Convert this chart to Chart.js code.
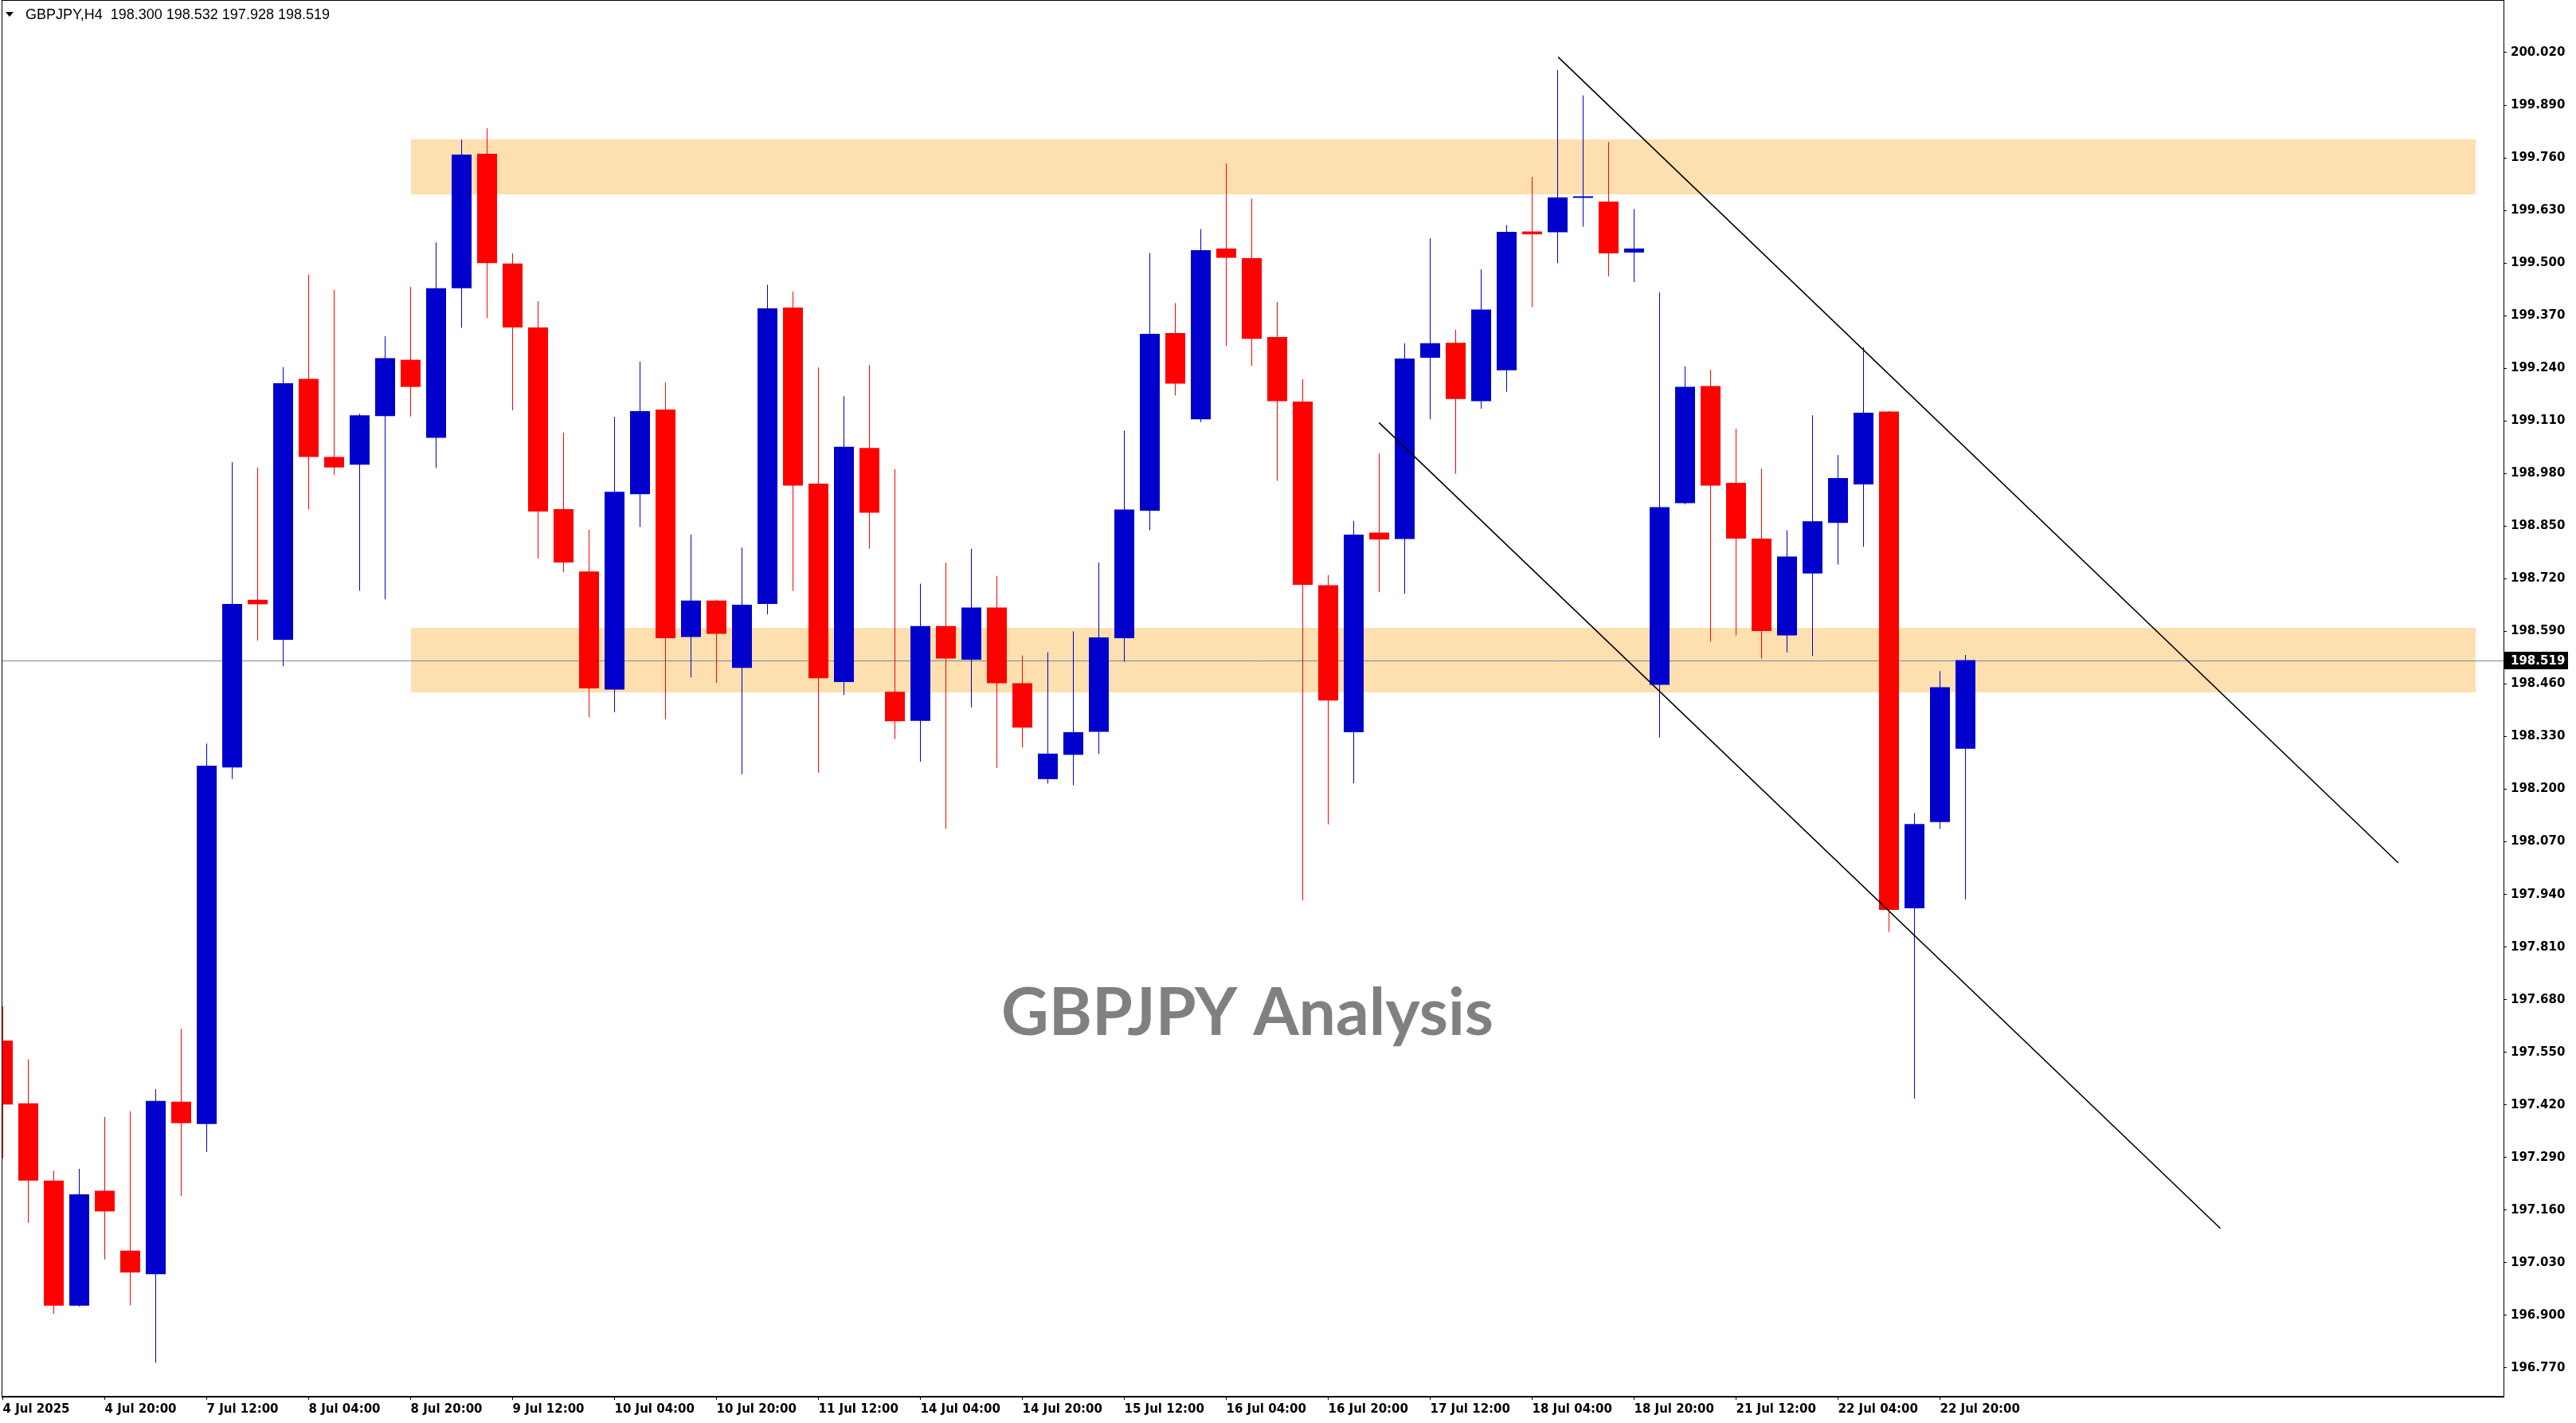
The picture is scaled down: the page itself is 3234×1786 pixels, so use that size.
<!DOCTYPE html>
<html>
<head>
<meta charset="utf-8">
<script src="https://cdn.jsdelivr.net/npm/chart.js@4/dist/chart.umd.min.js"></script>
<style>
html,body{margin:0;padding:0;background:#fff;overflow:hidden}
#wrap{width:3234px;height:1786px;position:relative}
canvas{display:block}
</style>
</head>
<body>
<div id="wrap"><canvas id="c" width="3234" height="1786"></canvas></div>
<script>
// ---------------- DATA ----------------
const symbolTitle = 'GBPJPY,H4';
const watermarkText = 'GBPJPY Analysis';

// H4 bars, 4 Jul 2025 04:00 ... 23 Jul 2025 00:00
const openP = [197.579,197.424,197.233,196.924,197.208,197.060,197.002,197.428,197.373,198.254,
  198.668,198.569,199.214,199.021,199.002,199.122,199.261,199.068,199.438,199.770,
  199.499,199.341,198.892,198.738,198.446,198.929,199.138,198.576,198.666,198.500,
  198.658,199.390,198.955,198.465,199.043,198.441,198.369,198.603,198.520,198.649,
  198.462,198.225,198.285,198.342,198.573,198.888,199.327,199.114,199.536,199.512,
  199.317,199.158,198.704,198.341,198.834,198.818,199.266,199.303,199.159,199.235,
  199.578,199.576,199.661,199.652,199.526,198.458,198.907,199.196,198.957,198.819,
  198.580,198.733,198.858,198.953,199.133,197.906,198.119,198.300];
const highP = [197.663,197.533,197.257,197.262,197.390,197.404,197.459,197.608,198.313,199.008,
  198.995,199.243,199.472,199.434,199.128,199.319,199.441,199.551,199.805,199.833,
  199.524,199.406,199.081,198.841,199.120,199.256,199.205,198.829,198.668,198.797,
  199.446,199.430,199.242,199.171,199.248,198.991,198.708,198.759,198.794,198.727,
  198.531,198.538,198.590,198.760,199.086,199.525,199.401,199.584,199.746,199.659,
  199.404,199.213,198.729,198.863,199.030,199.302,199.561,199.335,199.484,199.594,
  199.713,199.977,199.914,199.799,199.633,199.428,199.245,199.236,199.091,198.992,
  198.840,199.124,199.026,199.292,199.134,198.141,198.492,198.532];
const lowP = [197.288,197.129,196.904,196.922,197.038,196.925,196.783,197.195,197.304,198.225,
  198.567,198.504,198.891,198.977,198.691,198.669,199.121,198.994,199.340,199.364,
  199.136,198.770,198.736,198.378,198.390,198.848,198.373,198.476,198.463,198.237,
  198.632,198.690,198.241,198.433,198.794,198.324,198.268,198.102,198.402,198.253,
  198.303,198.214,198.210,198.287,198.515,198.840,199.173,199.107,199.295,199.246,
  198.962,197.925,198.113,198.215,198.687,198.683,199.114,198.979,199.140,199.182,
  199.391,199.500,199.590,199.467,199.453,198.328,198.904,198.565,198.580,198.523,
  198.538,198.529,198.755,198.799,197.848,197.436,198.102,197.928];
const closeP = [197.421,197.233,196.924,197.199,197.157,197.006,197.430,197.375,198.258,198.658,
  198.657,199.203,199.021,198.995,199.124,199.265,199.194,199.438,199.768,199.500,
  199.341,198.886,198.760,198.449,198.935,199.134,198.573,198.666,198.584,198.656,
  199.388,198.950,198.474,199.046,198.883,198.368,198.603,198.523,198.649,198.462,
  198.352,198.288,198.341,198.575,198.891,199.325,199.202,199.532,199.513,199.313,
  199.159,198.705,198.419,198.829,198.817,199.264,199.302,199.164,199.385,199.577,
  199.571,199.662,199.663,199.524,199.536,198.897,199.194,198.950,198.819,198.591,
  198.775,198.862,198.969,199.130,197.902,198.114,198.452,198.519];

const xTickBars   = [0,4,8,12,16,20,24,28,32,36,40,44,48,52,56,60,64,68,72,76];
const xTickLabels = ['4 Jul 2025','4 Jul 20:00','7 Jul 12:00','8 Jul 04:00','8 Jul 20:00','9 Jul 12:00',
  '10 Jul 04:00','10 Jul 20:00','11 Jul 12:00','14 Jul 04:00','14 Jul 20:00','15 Jul 12:00',
  '16 Jul 04:00','16 Jul 20:00','17 Jul 12:00','18 Jul 04:00','18 Jul 20:00','21 Jul 12:00',
  '22 Jul 04:00','22 Jul 20:00'];
const yTickValues = [196.770,196.900,197.030,197.160,197.290,197.420,197.550,197.680,197.810,197.940,
  198.070,198.200,198.330,198.460,198.590,198.720,198.850,198.980,199.110,199.240,
  199.370,199.500,199.630,199.760,199.890,200.020];

// zones (bar index range, price range)
const zoneFromBar = [16, 16];
const zoneToBar   = [97, 97];
const zoneTop     = [199.805, 198.599];
const zoneBottom  = [199.670, 198.440];

// channel lines: [bar, price] endpoints
const upperLineBars   = [61.02, 93.98];
const upperLinePrices = [200.009, 198.018];
const lowerLineBars   = [53.99, 87.0];
const lowerLinePrices = [199.106, 197.115];

const lastPrice = 198.519;

// ---------------- STYLE / LAYOUT ----------------
const W = 3234, H = 1786;
const AREA_LEFT = 2, AREA_TOP = 1, AREA_RIGHT = 3143, AREA_BOTTOM = 1753;
const BAR_STEP = 32;            // px per bar
const FIRST_BAR_X = 3.5;        // px of bar 0 centre
const PX_PER_UNIT = 508;        // px per 1.000 in price
const REF_PRICE = 200.02, REF_Y = 66;

const xMin = (AREA_LEFT - FIRST_BAR_X) / BAR_STEP;
const xMax = xMin + (AREA_RIGHT - AREA_LEFT) / BAR_STEP;
const yMax = REF_PRICE + (REF_Y - AREA_TOP) / PX_PER_UNIT;
const yMin = REF_PRICE - (AREA_BOTTOM - REF_Y) / PX_PER_UNIT;

const BLUE = '#0000CD', RED = '#FF0000';
const ZONE = '#FDDFB0';
const PRICE_LINE = '#778899';
const AXIS_FONT = 'DejaVu Sans';

const idx = openP.map((_, i) => i);
const isUp = i => closeP[i] >= openP[i];
const candleColor = ctx => isUp(ctx.dataIndex) ? BLUE : RED;

const bodies = idx.map(i => ({x: i, y: [openP[i], closeP[i]]}));
const wicks  = idx.map(i => ({x: i, y: [lowP[i], highP[i]]}));

const bgPlugin = {
  id: 'bg',
  beforeDraw(chart) {
    const c = chart.ctx;
    c.save(); c.fillStyle = '#fff'; c.fillRect(0, 0, chart.width, chart.height); c.restore();
  }
};

const underlayPlugin = {
  id: 'underlay',
  beforeDatasetsDraw(chart) {
    const {ctx, chartArea: a, scales: {x, y}} = chart;
    ctx.save();
    ctx.beginPath(); ctx.rect(a.left, a.top, a.right - a.left, a.bottom - a.top); ctx.clip();
    // zones
    ctx.fillStyle = ZONE;
    for (let k = 0; k < zoneTop.length; k++) {
      const x1 = x.getPixelForValue(zoneFromBar[k]);
      const x2 = x.getPixelForValue(zoneToBar[k]);
      const y1 = y.getPixelForValue(zoneTop[k]);
      const y2 = y.getPixelForValue(zoneBottom[k]);
      ctx.fillRect(Math.round(x1), Math.round(y1), Math.round(x2 - x1), Math.round(y2 - y1));
    }
    // last price line
    const py = Math.round(y.getPixelForValue(lastPrice)) + 0.5;
    ctx.strokeStyle = PRICE_LINE; ctx.lineWidth = 1;
    ctx.beginPath(); ctx.moveTo(a.left, py); ctx.lineTo(a.right, py); ctx.stroke();
    // watermark
    ctx.fillStyle = '#808080';
    ctx.font = 'bold 82px Lato, "Open Sans", sans-serif';
    ctx.textAlign = 'center'; ctx.textBaseline = 'alphabetic';
    const targetW = 618;
    const mw = ctx.measureText(watermarkText).width;
    ctx.translate(1566, 1299);
    ctx.scale(targetW / mw, 1);
    ctx.fillText(watermarkText, 0, 0);
    ctx.restore();
  }
};

const overlayPlugin = {
  id: 'overlay',
  afterDraw(chart) {
    const {ctx, chartArea: a, scales: {y}} = chart;
    ctx.save();
    // frame
    ctx.strokeStyle = '#000'; ctx.lineWidth = 1;
    ctx.strokeRect(a.left + 0.5, a.top - 0.5, a.right - a.left, a.bottom - a.top);
    // header
    const n = openP.length - 1;
    ctx.fillStyle = '#000';
    ctx.beginPath(); ctx.moveTo(7, 15); ctx.lineTo(17, 15); ctx.lineTo(12, 21); ctx.closePath(); ctx.fill();
    ctx.font = '18px "Liberation Sans", Arial, sans-serif';
    ctx.textAlign = 'left'; ctx.textBaseline = 'alphabetic';
    const hdr = symbolTitle + '  ' + [openP[n], highP[n], lowP[n], closeP[n]].map(v => v.toFixed(3)).join(' ');
    ctx.fillText(hdr, 32, 24);
    // last price tag on axis
    const py = Math.round(y.getPixelForValue(lastPrice));
    ctx.fillStyle = '#000';
    ctx.fillRect(a.right + 1, py - 11, 80, 22);
    ctx.fillStyle = '#fff';
    ctx.font = 'bold 15px "' + AXIS_FONT + '"';
    ctx.textBaseline = 'middle';
    ctx.fillText(lastPrice.toFixed(3), a.right + 9, py + 1);
    ctx.restore();
  }
};

Chart.defaults.font.family = AXIS_FONT;

new Chart(document.getElementById('c'), {
  type: 'bar',
  data: {
    datasets: [
      { type: 'line', label: 'upper', order: 0,
        data: upperLineBars.map((b, k) => ({x: b, y: upperLinePrices[k]})),
        borderColor: '#000', borderWidth: 1.6, pointRadius: 0, fill: false, tension: 0 },
      { type: 'line', label: 'lower', order: 0,
        data: lowerLineBars.map((b, k) => ({x: b, y: lowerLinePrices[k]})),
        borderColor: '#000', borderWidth: 1.6, pointRadius: 0, fill: false, tension: 0 },
      { type: 'bar', label: 'body', order: 1, data: bodies,
        backgroundColor: candleColor, borderWidth: 0, barThickness: 25, grouped: false,
        minBarLength: 2, inflateAmount: 0 },
      { type: 'bar', label: 'wick', order: 2, data: wicks,
        backgroundColor: candleColor, borderWidth: 0, barThickness: 1, grouped: false,
        inflateAmount: 0 }
    ]
  },
  options: {
    responsive: false,
    maintainAspectRatio: false,
    devicePixelRatio: 1,
    animation: false,
    events: [],
    layout: { padding: { left: AREA_LEFT, top: AREA_TOP, right: 0, bottom: 0 } },
    plugins: { legend: { display: false }, tooltip: { enabled: false } },
    scales: {
      x: {
        type: 'linear', min: xMin, max: xMax, offset: false,
        afterBuildTicks: s => { s.ticks = xTickBars.map(v => ({value: v})); },
        afterFit: s => { s.height = H - AREA_BOTTOM; s.paddingLeft = 0; s.paddingRight = 0; s.paddingTop = 0; s.paddingBottom = 0; },
        ticks: {
          callback: (v, i) => xTickLabels[i],
          align: 'start', maxRotation: 0, minRotation: 0, autoSkip: false,
          padding: 3, color: '#000', font: { family: AXIS_FONT, size: 15, weight: 'bold' }
        },
        grid: { drawOnChartArea: false, drawTicks: true, tickLength: 4, color: '#000', lineWidth: 1, offset: false },
        border: { display: true, color: '#000', width: 1 }
      },
      y: {
        type: 'linear', position: 'right', min: yMin, max: yMax,
        afterBuildTicks: s => { s.ticks = yTickValues.map(v => ({value: v})); },
        afterFit: s => { s.width = W - AREA_RIGHT; s.paddingTop = 0; s.paddingBottom = 0; s.paddingLeft = 0; s.paddingRight = 0; },
        ticks: {
          callback: v => Number(v).toFixed(3),
          autoSkip: false, padding: 5, color: '#000',
          font: { family: AXIS_FONT, size: 15, weight: 'bold' }
        },
        grid: { drawOnChartArea: false, drawTicks: true, tickLength: 4, color: '#000', lineWidth: 1 },
        border: { display: true, color: '#000', width: 1 }
      }
    }
  },
  plugins: [bgPlugin, underlayPlugin, overlayPlugin]
});
</script>
</body>
</html>
